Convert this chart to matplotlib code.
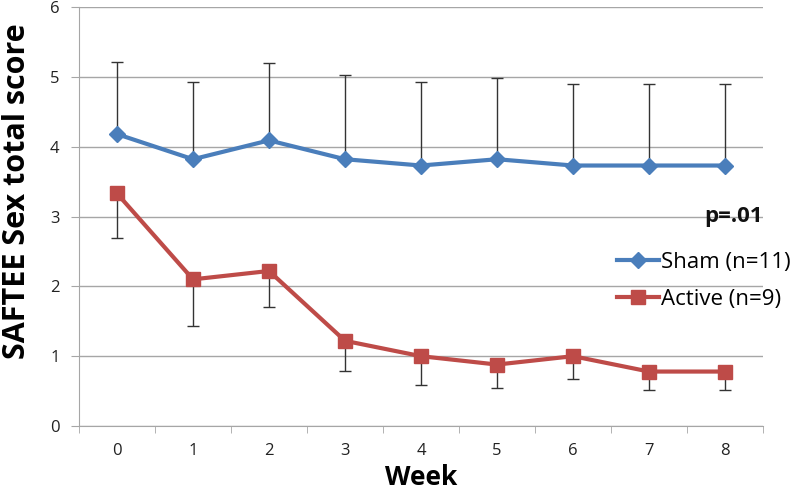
import numpy as np
import matplotlib
matplotlib.use("Agg")
import matplotlib.pyplot as plt

plt.rcParams['font.family'] = ['Open Sans', 'DejaVu Sans']

weeks = [0, 1, 2, 3, 4, 5, 6, 7, 8]
sham = [4.18, 3.82, 4.09, 3.82, 3.73, 3.82, 3.73, 3.73, 3.73]
sham_upper = [5.21, 4.92, 5.20, 5.02, 4.93, 4.98, 4.90, 4.90, 4.90]
active = [3.33, 2.10, 2.22, 1.22, 1.00, 0.88, 1.00, 0.78, 0.78]
active_lower = [2.69, 1.43, 1.70, 0.79, 0.59, 0.54, 0.67, 0.51, 0.51]

blue = '#4A7EBB'
red = '#BE4B48'
grid_c = '#A6A6A6'

fig = plt.figure(figsize=(8, 4.92), dpi=100)
ax = fig.add_axes([0.09875, 0.1341, 0.855, 0.8517])

x = np.array(weeks)
sham = np.array(sham)
active = np.array(active)

# error bars: sham upper only, active lower only
ax.errorbar(x, sham, yerr=[np.zeros(len(x)), np.array(sham_upper) - sham],
            fmt='none', ecolor='#333333', elinewidth=1, capsize=4, capthick=1, zorder=2)
ax.errorbar(x, active, yerr=[active - np.array(active_lower), np.zeros(len(x))],
            fmt='none', ecolor='#333333', elinewidth=1, capsize=4, capthick=1, zorder=2)

ax.plot(x, sham, color=blue, lw=3, marker='D', ms=8, label='Sham (n=11)', zorder=3)
ax.plot(x, active, color=red, lw=3, marker='s', ms=10, label='Active (n=9)', zorder=3)

ax.set_xlim(-0.5, 8.5)
ax.set_ylim(0, 6)
ax.set_yticks(range(7))
ax.yaxis.grid(True, color=grid_c, lw=1)
ax.set_axisbelow(True)

ax.set_xticks(x)
ax.set_xticklabels([str(w) for w in weeks])
ax.set_xticks(np.arange(-0.5, 9, 1), minor=True)
ax.tick_params(axis='x', which='major', length=0, pad=12, labelsize=12, labelcolor='#222222')
ax.tick_params(axis='x', which='minor', length=5, color=grid_c, direction='out')
ax.tick_params(axis='y', length=6, color=grid_c, labelsize=12, labelcolor='#222222', pad=8)

for s in ['top', 'right']:
    ax.spines[s].set_visible(False)
ax.spines['left'].set_color(grid_c)
ax.spines['bottom'].set_color(grid_c)

ax.set_xlabel('Week', fontsize=19, fontweight='bold', labelpad=4)
ax.set_ylabel('SAFTEE Sex total score', fontsize=22, fontweight='bold')
ax.yaxis.set_label_coords(-0.068, 0.56)

ax.text(8.5, 2.92, 'p=.01', fontsize=16, fontweight='bold', ha='right', va='baseline', color='#111111')
leg = ax.legend(loc='upper left', bbox_to_anchor=(0.773, 0.437), frameon=False,
                fontsize=16, handlelength=1.9, handletextpad=0.1, labelspacing=0.72,
                borderaxespad=0)

fig.savefig('out.png', dpi=100)
